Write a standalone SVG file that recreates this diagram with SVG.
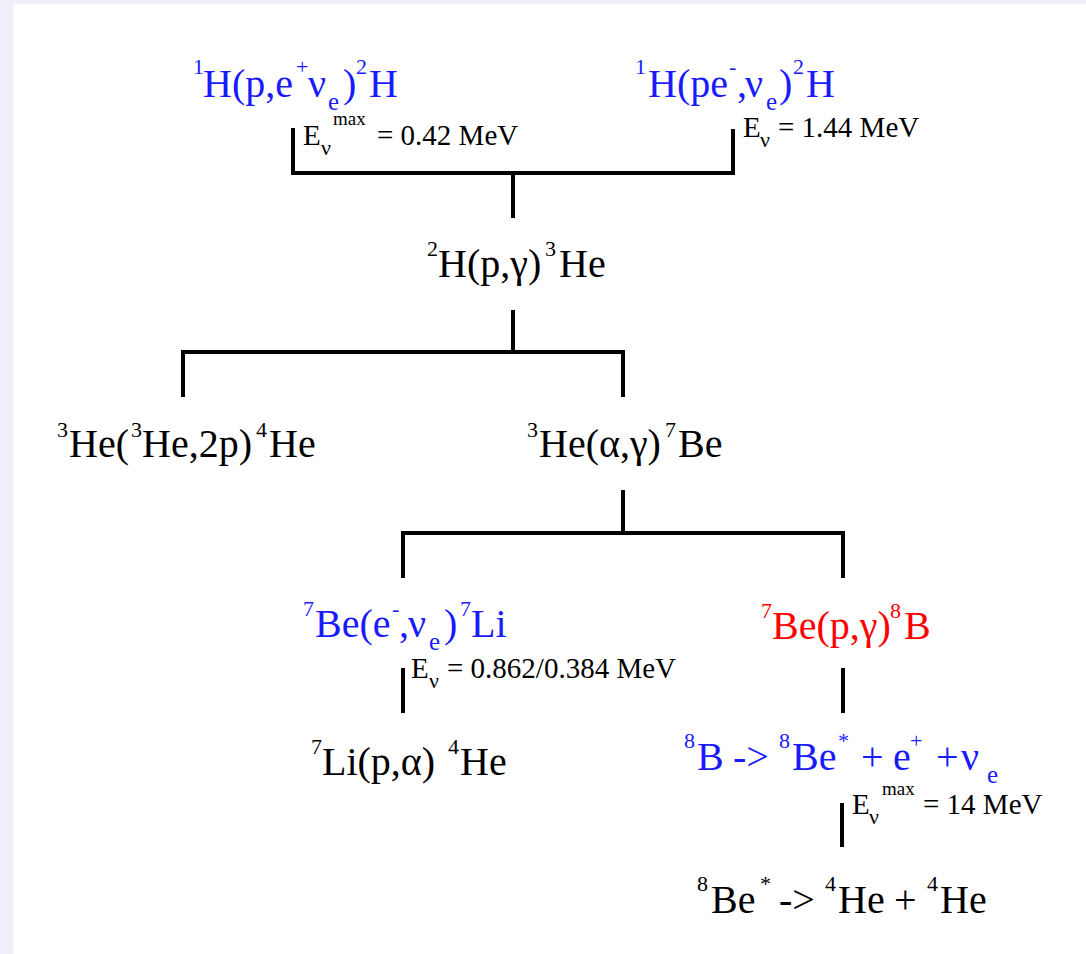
<svg xmlns="http://www.w3.org/2000/svg" width="1086" height="954" viewBox="0 0 1086 954">
<style>
.t{font-family:"Liberation Serif","Times New Roman",serif;font-size:40px;fill:#000}
.b{fill:#1a1aff}
.r{fill:#ff0000}
.sup{font-size:22px}
.sub{font-size:25px}
.lab{font-family:"Liberation Serif","Times New Roman",serif;font-size:29px;fill:#000}
.ls{font-size:22px}
.lm{font-size:19px}
.conn{fill:none;stroke:#000;stroke-width:4}
</style>
<rect x="0" y="0" width="1086" height="954" fill="#f0f0fd"/>
<rect x="13" y="4" width="1073" height="950" fill="#ffffff"/>

<g id="connectors">
<path class="conn" d="M293,128 V173 H733 V129 M513,173 V218"/>
<path class="conn" d="M513,310 V352 M183,397 V352 H623 V397"/>
<path class="conn" d="M623,490 V533 M403,578 V533 H843 V578"/>
<path class="conn" d="M403,668 V713 M843,668 V713"/>
<path class="conn" d="M842,803 V847"/>
<text class="lab"><tspan x="303" y="145">E</tspan><tspan class="ls" x="321" y="155">ν</tspan><tspan class="lm" x="333" y="125">max</tspan><tspan x="377" y="145">= 0.42 MeV</tspan></text>
<text class="lab"><tspan x="743" y="137">E</tspan><tspan class="ls" x="760" y="147">ν</tspan><tspan x="778" y="137">= 1.44 MeV</tspan></text>
<text class="lab"><tspan x="411" y="678">E</tspan><tspan class="ls" x="429" y="688">ν</tspan><tspan x="447" y="678">= 0.862/0.384 MeV</tspan></text>
<text class="lab"><tspan x="852" y="814">E</tspan><tspan class="ls" x="869" y="824">ν</tspan><tspan class="lm" x="882" y="795">max</tspan><tspan x="923" y="814">= 14 MeV</tspan></text>
</g>

<g id="n1">
<text class="t b"><tspan class="sup" x="193" y="74">1</tspan><tspan x="203" y="97">H(p,e</tspan><tspan class="sup" x="296" y="74">+</tspan><tspan x="308" y="97">ν</tspan><tspan class="sub" x="328" y="110">e</tspan><tspan x="343" y="97">)</tspan><tspan class="sup" x="356" y="74">2</tspan><tspan x="369" y="97">H</tspan></text>
</g>
<g id="n2">
<text class="t b"><tspan class="sup" x="635" y="74">1</tspan><tspan x="648" y="97">H(pe</tspan><tspan class="sup" x="729" y="74">-</tspan><tspan x="737" y="97">,</tspan><tspan x="745" y="97">ν</tspan><tspan class="sub" x="766" y="110">e</tspan><tspan x="779" y="97">)</tspan><tspan class="sup" x="793" y="74">2</tspan><tspan x="806" y="97">H</tspan></text>
</g>
<g id="n3">
<text class="t"><tspan class="sup" x="427" y="256">2</tspan><tspan x="438" y="277">H(p,γ)</tspan><tspan class="sup" x="545" y="256">3</tspan><tspan x="559" y="277">He</tspan></text>
</g>
<g id="n4">
<text class="t"><tspan class="sup" x="57" y="437">3</tspan><tspan x="69" y="457">He(</tspan><tspan class="sup" x="131" y="437">3</tspan><tspan x="142" y="457">He,2p)</tspan><tspan class="sup" x="256" y="437">4</tspan><tspan x="269" y="457">He</tspan></text>
</g>
<g id="n5">
<text class="t"><tspan class="sup" x="527" y="437">3</tspan><tspan x="539" y="457">He(α,γ)</tspan><tspan class="sup" x="665" y="437">7</tspan><tspan x="678" y="457">Be</tspan></text>
</g>
<g id="n6">
<text class="t b"><tspan class="sup" x="303" y="616">7</tspan><tspan x="315" y="637">Be(e</tspan><tspan class="sup" x="392" y="616">-</tspan><tspan x="399" y="637">,</tspan><tspan x="408" y="637">ν</tspan><tspan class="sub" x="429" y="650">e</tspan><tspan x="444" y="637">)</tspan><tspan class="sup" x="460" y="616">7</tspan><tspan x="471" y="637">Li</tspan></text>
</g>
<g id="n7">
<text class="t r"><tspan class="sup" x="761" y="618">7</tspan><tspan x="772" y="639">Be(p,γ)</tspan><tspan class="sup" x="890" y="618">8</tspan><tspan x="904" y="639">B</tspan></text>
</g>
<g id="n8">
<text class="t"><tspan class="sup" x="311" y="754">7</tspan><tspan x="322" y="775">Li(p,α)</tspan><tspan class="sup" x="448" y="754">4</tspan><tspan x="460" y="775">He</tspan></text>
</g>
<g id="n9">
<text class="t b"><tspan class="sup" x="684" y="748">8</tspan><tspan x="697" y="770">B</tspan><tspan x="733" y="770">-&gt;</tspan><tspan class="sup" x="779" y="748">8</tspan><tspan x="792" y="770">Be</tspan><tspan class="sup" x="838" y="748">*</tspan><tspan x="861" y="770">+</tspan><tspan x="893" y="770">e</tspan><tspan class="sup" x="910" y="748">+</tspan><tspan x="936" y="770">+</tspan><tspan x="961" y="770">ν</tspan><tspan class="sub" x="987" y="783">e</tspan></text>
</g>
<g id="n10">
<text class="t"><tspan class="sup" x="697" y="891">8</tspan><tspan x="711" y="913">Be</tspan><tspan class="sup" x="760" y="891">*</tspan><tspan x="779" y="913">-&gt;</tspan><tspan class="sup" x="825" y="891">4</tspan><tspan x="838" y="913">He</tspan><tspan x="894" y="913">+</tspan><tspan class="sup" x="927" y="891">4</tspan><tspan x="940" y="913">He</tspan></text>
</g>
</svg>
